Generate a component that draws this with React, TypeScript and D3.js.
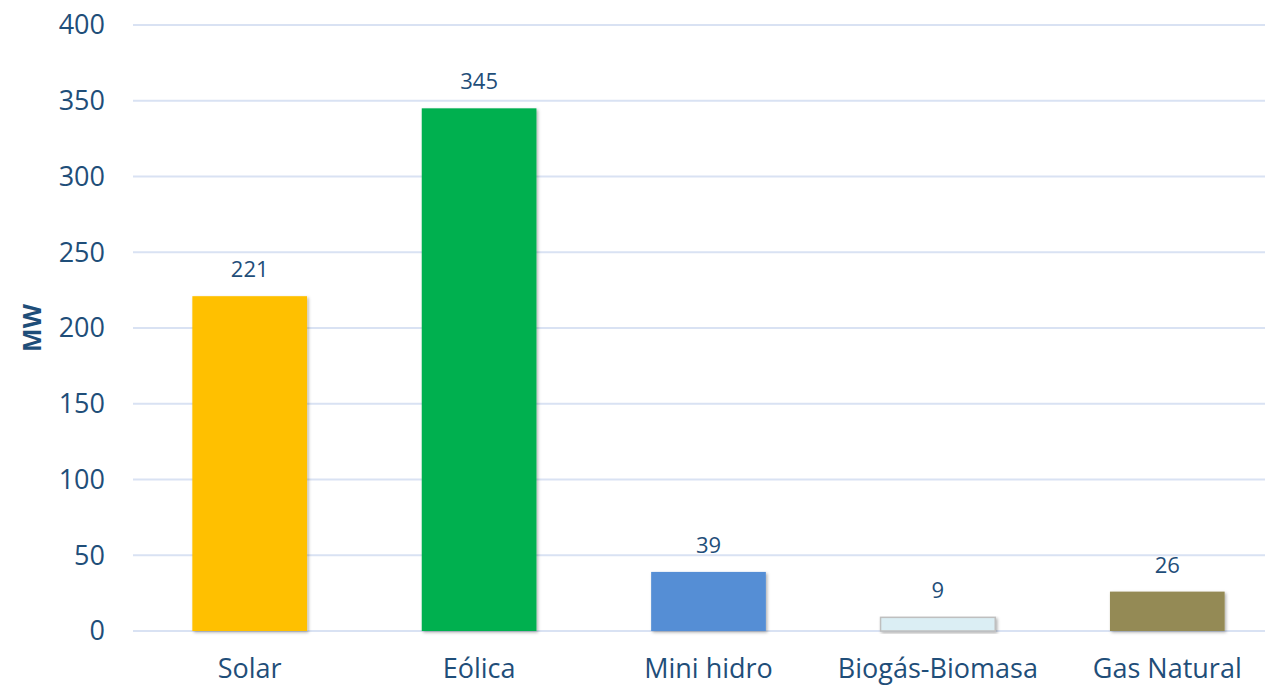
import { useEffect, useRef } from 'react';
import * as d3 from 'd3';

const categories = ['Solar', 'Eólica', 'Mini hidro', 'Biogás-Biomasa', 'Gas Natural'];
const values = [221, 345, 39, 9, 26];
const barColors = ['#FFC000', '#00B050', '#558ED5', '#DBEEF4', '#948A54'];
const yTicks = [0, 50, 100, 150, 200, 250, 300, 350, 400];

const W = 1265;
const H = 686;
const textColor = '#1F4E79';
const font = '"Open Sans", "Noto Sans", sans-serif';

export default function App() {
  const svgRef = useRef<SVGSVGElement>(null);

  useEffect(() => {
    if (!svgRef.current) return;
    document.body.style.margin = '0';
    const svg = d3.select(svgRef.current);
    svg.selectAll('*').remove();

    const x = d3.scaleBand<string>()
      .domain(categories)
      .range([135, 1282])
      .paddingInner(0.5)
      .paddingOuter(0.25);

    const y = d3.scaleLinear().domain([0, 400]).range([631, 25]);

    const defs = svg.append('defs');
    const f = defs.append('filter').attr('id', 'shadow')
      .attr('x', '-10%').attr('y', '-10%').attr('width', '130%').attr('height', '130%');
    f.append('feDropShadow')
      .attr('dx', 1.5).attr('dy', 1.5).attr('stdDeviation', 1.5)
      .attr('flood-color', '#000').attr('flood-opacity', 0.3);

    // gridlines
    svg.append('g')
      .selectAll('line')
      .data(yTicks)
      .enter()
      .append('line')
      .attr('x1', 133)
      .attr('x2', W)
      .attr('y1', d => y(d))
      .attr('y2', d => y(d))
      .attr('stroke', '#D9E2F3')
      .attr('stroke-width', 2);

    // y tick labels
    svg.append('g')
      .selectAll('text')
      .data(yTicks)
      .enter()
      .append('text')
      .attr('x', 105)
      .attr('y', d => y(d))
      .attr('dy', '0.35em')
      .attr('text-anchor', 'end')
      .attr('font-family', font)
      .attr('font-size', 27)
      .attr('fill', textColor)
      .text(d => d);

    // axis title
    svg.append('text')
      .attr('transform', `translate(41, ${y(200)}) rotate(-90)`)
      .attr('text-anchor', 'middle')
      .attr('font-family', font)
      .attr('font-size', 25)
      .attr('font-weight', 'bold')
      .attr('fill', textColor)
      .text('MW');

    // bars
    svg.append('g')
      .selectAll('rect')
      .data(values)
      .enter()
      .append('rect')
      .attr('x', (_, i) => x(categories[i])!)
      .attr('y', d => y(d))
      .attr('width', x.bandwidth())
      .attr('height', d => y(0) - y(d))
      .attr('fill', (_, i) => barColors[i])
      .attr('stroke', (_, i) => (i === 3 ? '#BFBFBF' : 'none'))
      .attr('stroke-width', 1.5)
      .attr('filter', 'url(#shadow)');

    // data labels
    svg.append('g')
      .selectAll('text')
      .data(values)
      .enter()
      .append('text')
      .attr('x', (_, i) => x(categories[i])! + x.bandwidth() / 2)
      .attr('y', d => y(d) - 19)
      .attr('text-anchor', 'middle')
      .attr('font-family', font)
      .attr('font-size', 22)
      .attr('fill', textColor)
      .text(d => d);

    // category labels
    svg.append('g')
      .selectAll('text')
      .data(categories)
      .enter()
      .append('text')
      .attr('x', d => x(d)! + x.bandwidth() / 2)
      .attr('y', 678)
      .attr('text-anchor', 'middle')
      .attr('font-family', font)
      .attr('font-size', 27)
      .attr('fill', textColor)
      .text(d => d);
  }, []);

  return (
    <div style={{ position: 'absolute', left: 0, top: 0, width: W, height: H, background: '#fff' }}>
      <svg ref={svgRef} width={W} height={H} />
    </div>
  );
}
